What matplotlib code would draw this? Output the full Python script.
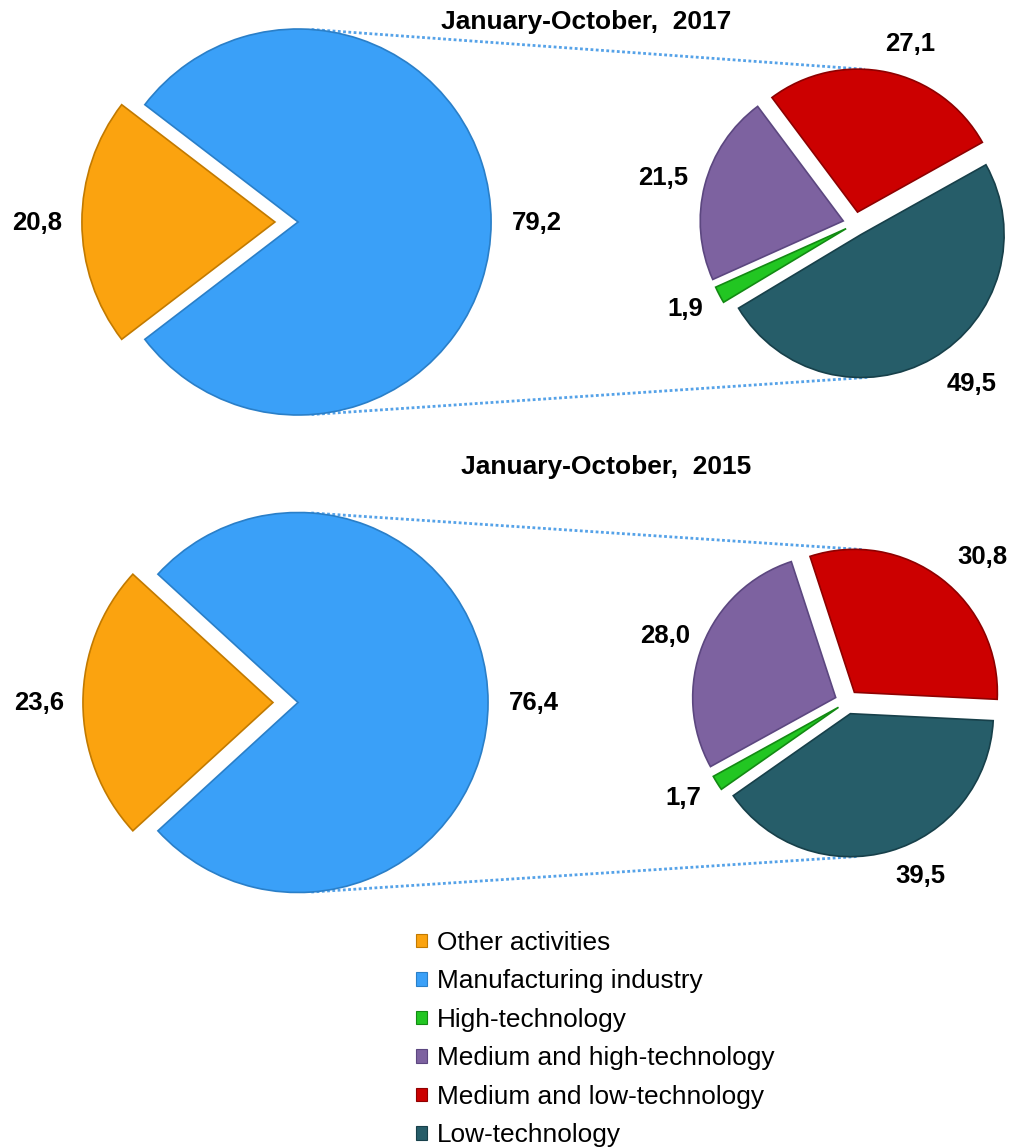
import numpy as np
import matplotlib
matplotlib.use("Agg")
import matplotlib.pyplot as plt
from matplotlib.patches import Patch

plt.rcParams['font.family'] = ['Liberation Sans', 'DejaVu Sans']

# ---------------- data ----------------
years = ["2017", "2015"]
main_labels = ["Other activities", "Manufacturing industry"]
main_values_2017 = [20.8, 79.2]
main_values_2015 = [23.6, 76.4]
sub_labels = ["High-technology", "Medium and high-technology",
              "Medium and low-technology", "Low-technology"]
sub_values_2017 = [1.9, 21.5, 27.1, 49.5]
sub_values_2015 = [1.7, 28.0, 30.8, 39.5]

# ---------------- style ----------------
main_colors = ["#FBA30F", "#3AA0F8"]
main_edges = ["#C27A00", "#2A7FC8"]
sub_colors = ["#22C622", "#7D62A0", "#CC0000", "#265D69"]
sub_edges = ["#138A13", "#5C4780", "#8E0000", "#17404A"]
legend_colors = main_colors + sub_colors
legend_labels = main_labels + sub_labels

W, H = 1012, 1147
fig = plt.figure(figsize=(W / 100, H / 100), dpi=100)
fig.patch.set_facecolor("white")

overlay = fig.add_axes([0, 0, 1, 1], zorder=0)
overlay.set_xlim(0, W)
overlay.set_ylim(H, 0)
overlay.axis("off")

K = 1.3


def pie_axes(cx, cy, r):
    return fig.add_axes([(cx - K * r) / W, (H - cy - K * r) / H,
                         2 * K * r / W, 2 * K * r / H], zorder=2)


def finish(ax):
    ax.set_xlim(-K, K)
    ax.set_ylim(-K, K)
    ax.set_aspect("auto")
    ax.axis("off")
    ax.patch.set_alpha(0)


def to_overlay(ax, x, y):
    px, py = ax.transData.transform((x, y))
    return px, H - py


def fmt(v):
    return f"{v:.1f}".replace(".", ",")


configs = [
    dict(year="2017", main=main_values_2017, sub=sub_values_2017,
         big=(286.5, 222, 193), bexp=0.06,
         small=(855, 224, 143), start=211,
         title=(586, 22),
         mlab=[(37, 223), (537, 223)],
         slab=[(685, 309), (663, 178), (910, 44), (972, 384)]),
    dict(year="2015", main=main_values_2015, sub=sub_values_2015,
         big=(285.5, 702.5, 190), bexp=0.066,
         small=(847, 702, 143), start=215,
         title=(606, 467),
         mlab=[(39, 703), (534, 703)],
         slab=[(683, 798), (665, 636), (982, 557), (920, 876)]),
]

for cfg in configs:
    cx, cy, R = cfg["big"]
    axb = pie_axes(cx, cy, R)
    mv = cfg["main"]
    start_main = 180 - mv[0] * 3.6 / 2
    wb, _ = axb.pie(mv, colors=main_colors, startangle=start_main,
                    explode=[cfg["bexp"], cfg["bexp"]], counterclock=True,
                    wedgeprops=dict(linewidth=0))
    for w, ec in zip(wb, main_edges):
        w.set_edgecolor(ec)
        w.set_linewidth(1.2)
    finish(axb)

    scx, scy, r = cfg["small"]
    axs = pie_axes(scx, scy, r)
    sv = cfg["sub"]
    ws, _ = axs.pie(sv, colors=sub_colors, startangle=cfg["start"],
                    counterclock=False, explode=[0.07, 0.085, 0.085, 0.085],
                    wedgeprops=dict(linewidth=0))
    for w, ec in zip(ws, sub_edges):
        w.set_edgecolor(ec)
        w.set_linewidth(1.2)
    finish(axs)

    # connector lines from manufacturing slice to the secondary pie
    blue, red, teal = wb[1], ws[2], ws[3]
    bx, by = blue.center
    a = np.deg2rad(86)
    p_top = to_overlay(axb, bx + np.cos(a), by + np.sin(a))
    p_bot = to_overlay(axb, bx + np.cos(-a), by + np.sin(-a))
    a2 = np.deg2rad(87)
    rcx, rcy = red.center
    tcx, tcy = teal.center
    q_top = to_overlay(axs, rcx + np.cos(a2), rcy + np.sin(a2))
    q_bot = to_overlay(axs, tcx + np.cos(-a2), tcy + np.sin(-a2))
    for p, q in [(p_top, q_top), (p_bot, q_bot)]:
        overlay.plot([p[0], q[0]], [p[1], q[1]], color="#55A2E8",
                     lw=2.0, linestyle=(0, (1.0, 0.9)),
                     dash_capstyle="butt", solid_capstyle="butt")

    overlay.text(cfg["title"][0], cfg["title"][1],
                 f"January-October,  {cfg['year']}", ha="center", va="center",
                 fontsize=19, fontweight="bold", color="black")
    for (x, y), v in zip(cfg["mlab"], mv):
        overlay.text(x, y, fmt(v), ha="center", va="center", fontsize=18.5,
                     fontweight="bold", color="black")
    for (x, y), v in zip(cfg["slab"], sv):
        overlay.text(x, y, fmt(v), ha="center", va="center", fontsize=18.5,
                     fontweight="bold", color="black")

handles = [Patch(facecolor=c, edgecolor=e, linewidth=0.8)
           for c, e in zip(legend_colors, main_edges + sub_edges)]
fig.legend(handles, legend_labels, loc="upper left",
           bbox_to_anchor=(416 / W, 1 - 931 / H), frameon=False,
           fontsize=18.9, handlelength=0.42, handleheight=0.42,
           handletextpad=0.38, labelspacing=0.55, borderaxespad=0,
           borderpad=0)

fig.savefig("out.png", dpi=100, facecolor="white")
